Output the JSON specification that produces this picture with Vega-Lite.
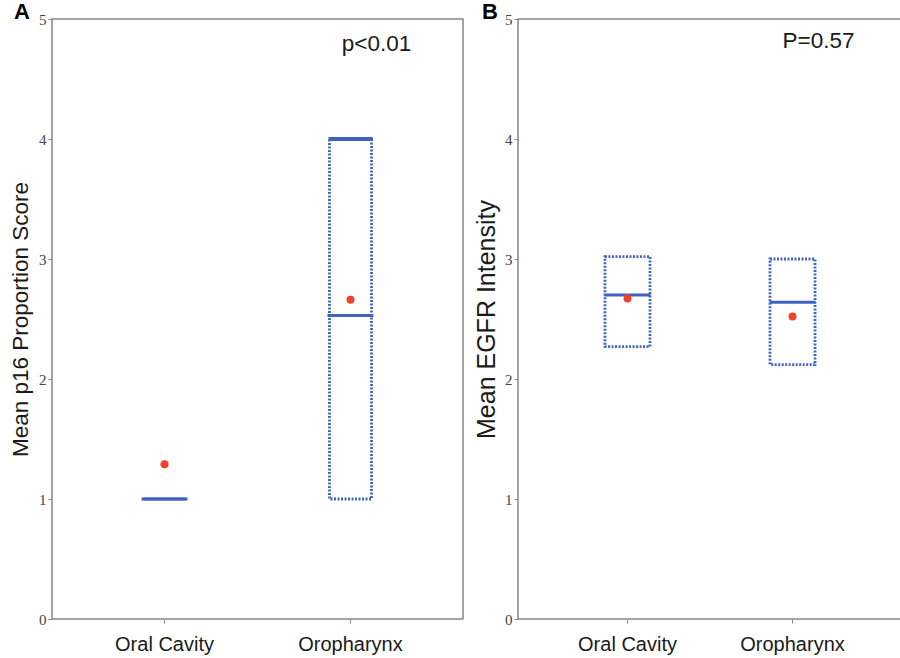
{
  "$schema": "https://vega.github.io/schema/vega-lite/v6.json",
  "padding": {"left": 8, "top": 0, "right": 0, "bottom": 0},
  "spacing": 9,
  "config": {
    "view": {"stroke": "#888888", "strokeWidth": 1.5},
    "axis": {"grid": false, "domain": false, "tickColor": "#888888", "tickSize": 4},
    "font": "Liberation Sans"
  },
  "datasets": {
    "boxA": [
      {"group": "Oral Cavity", "q1": 1.0, "q3": 1.0, "median": 1.0, "mean": 1.29},
      {"group": "Oropharynx", "q1": 1.0, "q3": 4.0, "median": 2.53, "mean": 2.66, "cap": 4.0}
    ],
    "boxB": [
      {"group": "Oral Cavity", "q1": 2.27, "q3": 3.02, "median": 2.7, "mean": 2.67},
      {"group": "Oropharynx", "q1": 2.12, "q3": 3.0, "median": 2.64, "mean": 2.52}
    ],
    "noteA": [{"group": "Oropharynx", "y": 4.79, "label": "p<0.01"}],
    "noteB": [{"group": "Oropharynx", "y": 4.82, "label": "P=0.57"}]
  },
  "hconcat": [
    {
      "width": 411,
      "height": 600,
      "title": {"text": "A", "anchor": "start", "frame": "group", "fontSize": 22, "fontWeight": "bold", "font": "Liberation Sans", "color": "#000000", "dx": -38, "offset": -12},
      "layer": [
        {
          "data": {"name": "boxA"},
          "mark": {"type": "bar", "fill": null, "fillOpacity": 0, "stroke": "#4262C2", "strokeWidth": 2.8, "strokeDash": [2, 1.5]},
          "encoding": {
            "x": {"field": "group", "type": "nominal", "scale": {"domain": ["Oral Cavity", "Oropharynx"], "paddingInner": 0.774, "paddingOuter": 0.492},
              "axis": {"title": null, "labelAngle": 0, "labelFontSize": 20, "labelColor": "#1a1a1a", "labelPadding": 11, "labelFont": "Liberation Sans"}},
            "y": {"field": "q1", "type": "quantitative", "scale": {"domain": [0, 5], "nice": false},
              "axis": {"title": "Mean p16 Proportion Score", "titleFontSize": 22.5, "titleFontWeight": "normal", "titleColor": "#1a1a1a", "titlePadding": 6, "values": [0, 1, 2, 3, 4, 5], "format": "d", "labelFont": "Liberation Serif", "labelFontSize": 15, "labelColor": "#444444", "labelPadding": 2}},
            "y2": {"field": "q3"}
          }
        },
        {
          "data": {"name": "boxA"},
          "mark": {"type": "tick", "orient": "horizontal", "color": "#4262C2", "thickness": 3, "size": 46, "opacity": 1},
          "encoding": {
            "x": {"field": "group", "type": "nominal"},
            "y": {"field": "median", "type": "quantitative"}
          }
        },
        {
          "data": {"name": "boxA"},
          "mark": {"type": "tick", "orient": "horizontal", "color": "#4262C2", "thickness": 4, "size": 44, "opacity": 1},
          "encoding": {
            "x": {"field": "group", "type": "nominal"},
            "y": {"field": "cap", "type": "quantitative"}
          }
        },
        {
          "data": {"name": "boxA"},
          "mark": {"type": "circle", "color": "#F2402A", "size": 64, "opacity": 1},
          "encoding": {
            "x": {"field": "group", "type": "nominal"},
            "y": {"field": "mean", "type": "quantitative"}
          }
        },
        {
          "data": {"name": "noteA"},
          "mark": {"type": "text", "fontSize": 22.5, "color": "#1a1a1a", "dx": 26, "font": "Liberation Sans"},
          "encoding": {
            "x": {"field": "group", "type": "nominal"},
            "y": {"field": "y", "type": "quantitative"},
            "text": {"field": "label"}
          }
        }
      ]
    },
    {
      "width": 384,
      "height": 600,
      "title": {"text": "B", "anchor": "start", "frame": "group", "fontSize": 22, "fontWeight": "bold", "font": "Liberation Sans", "color": "#000000", "dx": -36, "offset": -12},
      "layer": [
        {
          "data": {"name": "boxB"},
          "mark": {"type": "bar", "fill": null, "fillOpacity": 0, "stroke": "#4262C2", "strokeWidth": 2.8, "strokeDash": [2, 1.5]},
          "encoding": {
            "x": {"field": "group", "type": "nominal", "scale": {"domain": ["Oral Cavity", "Oropharynx"], "paddingInner": 0.727, "paddingOuter": 0.527},
              "axis": {"title": null, "labelAngle": 0, "labelFontSize": 20, "labelColor": "#1a1a1a", "labelPadding": 11, "labelFont": "Liberation Sans"}},
            "y": {"field": "q1", "type": "quantitative", "scale": {"domain": [0, 5], "nice": false},
              "axis": {"title": "Mean EGFR Intensity", "titleFontSize": 25, "titleFontWeight": "normal", "titleColor": "#1a1a1a", "titlePadding": 5, "values": [0, 1, 2, 3, 4, 5], "format": "d", "labelFont": "Liberation Serif", "labelFontSize": 15, "labelColor": "#444444", "labelPadding": 2}},
            "y2": {"field": "q3"}
          }
        },
        {
          "data": {"name": "boxB"},
          "mark": {"type": "tick", "orient": "horizontal", "color": "#4262C2", "thickness": 3, "size": 46, "opacity": 1},
          "encoding": {
            "x": {"field": "group", "type": "nominal"},
            "y": {"field": "median", "type": "quantitative"}
          }
        },
        {
          "data": {"name": "boxB"},
          "mark": {"type": "circle", "color": "#F2402A", "size": 64, "opacity": 1},
          "encoding": {
            "x": {"field": "group", "type": "nominal"},
            "y": {"field": "mean", "type": "quantitative"}
          }
        },
        {
          "data": {"name": "noteB"},
          "mark": {"type": "text", "fontSize": 22.5, "color": "#1a1a1a", "dx": 26, "font": "Liberation Sans"},
          "encoding": {
            "x": {"field": "group", "type": "nominal"},
            "y": {"field": "y", "type": "quantitative"},
            "text": {"field": "label"}
          }
        }
      ]
    }
  ]
}
